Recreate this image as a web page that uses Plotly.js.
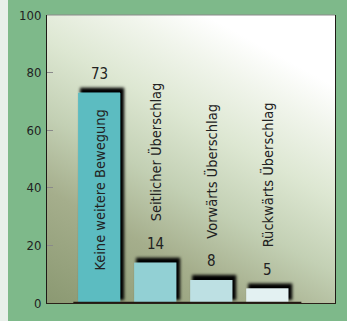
<!DOCTYPE html>
<html>
<head>
<meta charset="utf-8">
<script src="https://cdn.plot.ly/plotly-3.0.1.min.js"></script>
<style>
  html, body { margin: 0; padding: 0; }
  body {
    width: 347px; height: 321px; overflow: hidden;
    background: linear-gradient(to right, #e8efea 0px, #e8efea 8px, #7eb98a 8px, #7eb98a 100%);
  }
  #chart { width: 347px; height: 321px; }
</style>
</head>
<body>
<div id="chart"></div>
<script>
// Reactions observed (percent)
const categories = [
  'Keine weitere Bewegung',
  'Seitlicher Überschlag',
  'Vorwärts Überschlag',
  'Rückwärts Überschlag'
];
const values = [73, 14, 8, 5];
const barColors = ['#5bbcc1', '#92d0d4', '#bde0e3', '#e3f1f2'];
const yTicks = [0, 20, 40, 60, 80, 100];

// Soft plot-area backdrop: olive in the lower left fading to white at the top right
const backdrop = 'data:image/svg+xml;utf8,' + encodeURIComponent(
  '<svg xmlns="http://www.w3.org/2000/svg" width="100" height="100" preserveAspectRatio="none">' +
  '<defs><linearGradient id="g" x1="0" y1="1" x2="0.55" y2="0">' +
  '<stop offset="0" stop-color="#8b9972"/>' +
  '<stop offset="0.3" stop-color="#a5ae8c"/>' +
  '<stop offset="0.5" stop-color="#c3d0b4"/>' +
  '<stop offset="0.7" stop-color="#dde7d2"/>' +
  '<stop offset="0.88" stop-color="#f1f5ec"/>' +
  '<stop offset="1" stop-color="#ffffff"/>' +
  '</linearGradient></defs>' +
  '<rect width="100" height="100" fill="url(#g)"/></svg>');

const textFont = { family: 'DejaVu Sans Condensed, DejaVu Sans, sans-serif', color: '#222222' };

const annotations = [];
categories.forEach((c, i) => {
  // value above each bar
  annotations.push({
    x: c, y: values[i], xref: 'x', yref: 'y',
    text: String(values[i]), showarrow: false,
    yanchor: 'middle', yshift: 19,
    font: Object.assign({ size: 15 }, textFont)
  });
  // category name, vertical: inside a tall bar, otherwise above the value
  const inside = values[i] > 50;
  annotations.push({
    x: c, y: inside ? 0 : values[i], xref: 'x', yref: 'y',
    text: c, showarrow: false, textangle: -90,
    yanchor: 'bottom', yshift: inside ? 30 : 39,
    font: Object.assign({ size: 14.5 }, textFont)
  });
});

const data = [{
  type: 'bar',
  x: categories,
  y: values,
  width: 0.75,
  marker: { color: barColors, line: { width: 0 } },
  hoverinfo: 'skip'
}];

const layout = {
  width: 347, height: 321,
  margin: { l: 47, r: 12, t: 15, b: 18, pad: 0 },
  paper_bgcolor: 'rgba(0,0,0,0)',
  plot_bgcolor: '#dde6d3',
  showlegend: false,
  xaxis: {
    type: 'category',
    range: [-0.93, 4.21],
    showticklabels: false, ticks: '',
    showgrid: false, zeroline: false,
    showline: true, linecolor: '#2a2119', linewidth: 1
  },
  yaxis: {
    range: [0, 100],
    tickvals: yTicks,
    ticks: 'inside', ticklen: 6, tickcolor: '#8a8a8a', tickwidth: 1,
    ticklabelstandoff: 2,
    tickfont: { family: 'DejaVu Sans Condensed, DejaVu Sans, sans-serif', size: 13, color: '#222222' },
    showgrid: false, zeroline: false,
    showline: true, mirror: true, linecolor: '#1e1a16', linewidth: 1
  },
  images: [{
    source: backdrop, xref: 'paper', yref: 'paper',
    x: 0, y: 1, sizex: 1, sizey: 1, xanchor: 'left', yanchor: 'top',
    sizing: 'stretch', layer: 'below'
  }],
  shapes: [
    // grey top edge of the plot frame
    { type: 'line', xref: 'paper', yref: 'paper', x0: 0, x1: 1, y0: 1, y1: 1,
      line: { color: '#8a8a8a', width: 1 } },
    // dark baseline under the bars
    { type: 'line', xref: 'x', yref: 'y', x0: -0.46, x1: 3.61, y0: 0, y1: 0,
      line: { color: '#231a12', width: 2.5 }, layer: 'above' }
  ],
  annotations: annotations
};

Plotly.newPlot('chart', data, layout, { displayModeBar: false, staticPlot: true }).then(() => {
  // dense, soft black drop shadow behind the bars
  const svg = document.querySelector('#chart .main-svg');
  const NS = 'http://www.w3.org/2000/svg';
  let defs = svg.querySelector('defs');
  if (!defs) { defs = document.createElementNS(NS, 'defs'); svg.insertBefore(defs, svg.firstChild); }
  const f = document.createElementNS(NS, 'filter');
  f.setAttribute('id', 'barShadow');
  f.setAttribute('x', '-50%'); f.setAttribute('y', '-50%');
  f.setAttribute('width', '200%'); f.setAttribute('height', '200%');
  const parts = [
    ['feMorphology', { in: 'SourceAlpha', operator: 'dilate', radius: '1', result: 'grow' }],
    ['feOffset', { in: 'grow', dx: '3', dy: '-4', result: 'moved' }],
    ['feGaussianBlur', { in: 'moved', stdDeviation: '1.8', result: 'soft' }],
    ['feFlood', { 'flood-color': '#000', 'flood-opacity': '1', result: 'ink' }],
    ['feComposite', { in: 'ink', in2: 'soft', operator: 'in', result: 'shadow' }]
  ];
  parts.forEach(([tag, attrs]) => {
    const el = document.createElementNS(NS, tag);
    Object.entries(attrs).forEach(([k, v]) => el.setAttribute(k, v));
    f.appendChild(el);
  });
  const merge = document.createElementNS(NS, 'feMerge');
  ['shadow', 'SourceGraphic'].forEach(n => {
    const m = document.createElementNS(NS, 'feMergeNode');
    m.setAttribute('in', n);
    merge.appendChild(m);
  });
  f.appendChild(merge);
  defs.appendChild(f);
  document.querySelectorAll('#chart g.trace.bars').forEach(g => g.setAttribute('filter', 'url(#barShadow)'));
});
</script>
</body>
</html>
